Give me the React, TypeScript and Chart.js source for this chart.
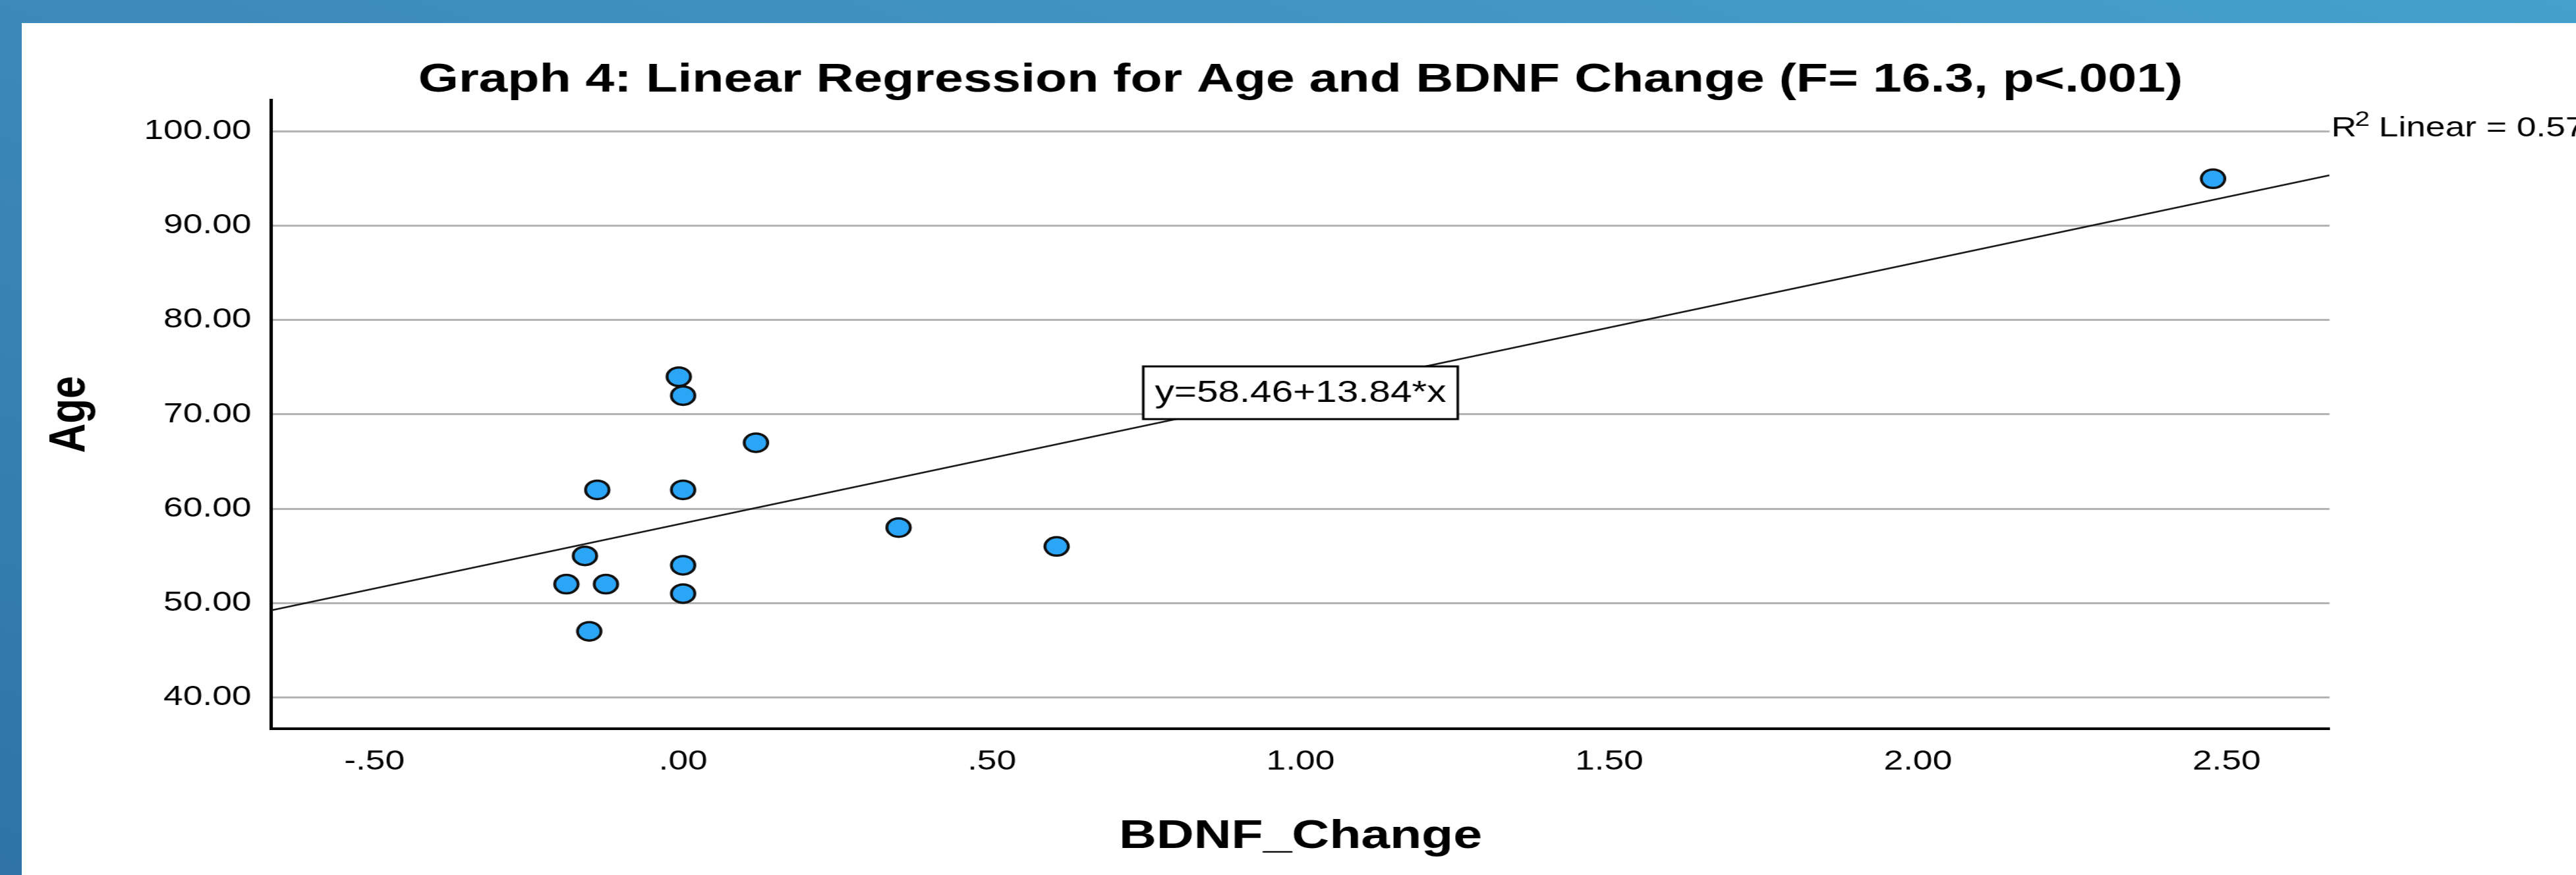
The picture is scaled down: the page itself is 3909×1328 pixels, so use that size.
import React, { useEffect, useRef } from "react";
import { Chart, registerables } from "chart.js";

Chart.register(...registerables);

// ---------- data ----------
const bdnfChange = [-0.007, 0.0, 0.118, -0.139, 0.0, 0.349, 0.605, -0.159, 0.0, -0.189, -0.125, 0.0, -0.152, 2.478];
const age = [74, 72, 67, 62, 62, 58, 56, 55, 54, 52, 52, 51, 47, 95];

const fitLineX = [-0.6667, 2.6667];
const fitLineY = [49.23, 95.37];

const xTicks = [-0.5, 0, 0.5, 1, 1.5, 2, 2.5];
const xTickLabels = ["-.50", ".00", ".50", "1.00", "1.50", "2.00", "2.50"];
const yTicks = [40, 50, 60, 70, 80, 90, 100];
const yTickLabels = ["40.00", "50.00", "60.00", "70.00", "80.00", "90.00", "100.00"];

const chartTitle = "Graph 4: Linear Regression for Age and BDNF Change (F= 16.3, p<.001)";
const xAxisTitle = "BDNF_Change";
const yAxisTitle = "Age";
const equationText = "y=58.46+13.84*x";
const equationAnchor = [1.0, 72.3];
const r2Parts = ["R", "2", " Linear = 0.576"];

// ---------- layout ----------
const WIN_W = 3909;
const WIN_H = 1328;
const BAR_L = 33;
const BAR_T = 35;
const PANEL_W = WIN_W - BAR_L;
const PANEL_H = WIN_H - BAR_T;
const STRETCH = 1.27;
const CANVAS_W = Math.round(PANEL_W / STRETCH);
const CANVAS_H = PANEL_H;

const AREA_LEFT = 298.4;
const AREA_RIGHT = 2757.5;
const AREA_TOP = 117;
const AREA_BOTTOM = 1071;

const FONT = "Arial, 'Liberation Sans', sans-serif";

const overlayPlugin = {
  id: "overlay",
  afterDatasetsDraw(chart: any) {
    const { ctx, scales } = chart;
    const px = scales.x.getPixelForValue(equationAnchor[0]);
    const py = scales.y.getPixelForValue(equationAnchor[1]);
    ctx.save();
    ctx.font = `46px ${FONT}`;
    const tw = ctx.measureText(equationText).width;
    const w = tw + 28;
    const h = 80;
    ctx.fillStyle = "#ffffff";
    ctx.fillRect(px - w / 2, py - h / 2, w, h);
    ctx.strokeStyle = "#000000";
    ctx.lineWidth = 3;
    ctx.strokeRect(px - w / 2, py - h / 2, w, h);
    ctx.fillStyle = "#000000";
    ctx.textAlign = "center";
    ctx.textBaseline = "middle";
    ctx.fillText(equationText, px, py + 1);
    ctx.restore();
  },
  afterDraw(chart: any) {
    const { ctx, chartArea } = chart;
    ctx.save();
    // title
    ctx.fillStyle = "#000000";
    ctx.font = `bold 62px ${FONT}`;
    ctx.textAlign = "center";
    ctx.textBaseline = "alphabetic";
    ctx.fillText(chartTitle, (chartArea.left + chartArea.right) / 2, 104);
    // R squared label
    ctx.textAlign = "left";
    let x = chartArea.right + 2;
    ctx.font = `42px ${FONT}`;
    ctx.fillText(r2Parts[0], x, 172);
    x += ctx.measureText(r2Parts[0]).width - 2;
    ctx.font = `32px ${FONT}`;
    ctx.fillText(r2Parts[1], x, 156);
    x += ctx.measureText(r2Parts[1]).width - 1;
    ctx.font = `42px ${FONT}`;
    ctx.fillText(r2Parts[2], x, 172);
    ctx.restore();
  },
};

export default function App() {
  const ref = useRef<HTMLCanvasElement>(null);

  useEffect(() => {
    if (!ref.current) return;
    const points = bdnfChange.map((v, i) => ({ x: v, y: age[i] }));
    const fit = fitLineX.map((v, i) => ({ x: v, y: fitLineY[i] }));
    const chart = new Chart(ref.current, {
      type: "scatter",
      data: {
        datasets: [
          {
            label: "Age",
            data: points,
            pointRadius: 14,
            pointHoverRadius: 14,
            pointBackgroundColor: "#2BA6F6",
            pointBorderColor: "#111111",
            pointBorderWidth: 3.5,
            showLine: false,
          },
          {
            label: "Fit",
            data: fit,
            showLine: true,
            borderColor: "#1a1a1a",
            borderWidth: 2.5,
            pointRadius: 0,
            pointHoverRadius: 0,
            fill: false,
          },
        ],
      },
      options: {
        responsive: false,
        animation: false,
        devicePixelRatio: 1,
        events: [],
        layout: {
          padding: { top: AREA_TOP, right: CANVAS_W - AREA_RIGHT, bottom: 0, left: 0 },
        },
        plugins: {
          legend: { display: false },
          tooltip: { enabled: false },
          title: { display: false },
        },
        scales: {
          x: {
            type: "linear",
            min: -2 / 3,
            max: 8 / 3,
            afterBuildTicks: (s: any) => {
              s.ticks = xTicks.map((v) => ({ value: v }));
            },
            afterFit: (s: any) => {
              s.height = CANVAS_H - AREA_BOTTOM;
            },
            ticks: {
              callback: (_v: any, i: number) => xTickLabels[i],
              color: "#000000",
              font: { family: FONT, size: 42 },
              padding: 25,
              maxRotation: 0,
              autoSkip: false,
            },
            grid: { display: false, drawTicks: false },
            border: { display: true, color: "#000000", width: 4 },
            title: {
              display: true,
              text: xAxisTitle,
              color: "#000000",
              font: { family: FONT, size: 62, weight: "bold" },
              padding: { top: 0, bottom: 21 },
            },
          },
          y: {
            type: "linear",
            min: 110 / 3,
            max: 310 / 3,
            afterBuildTicks: (s: any) => {
              s.ticks = yTicks.map((v) => ({ value: v }));
            },
            afterFit: (s: any) => {
              s.width = AREA_LEFT;
            },
            ticks: {
              callback: (_v: any, i: number) => yTickLabels[i],
              color: "#000000",
              font: { family: FONT, size: 42 },
              padding: 24,
              autoSkip: false,
            },
            grid: { color: "#B3B3B3", lineWidth: 3, drawTicks: false },
            border: { display: true, color: "#000000", width: 4 },
            title: {
              display: true,
              text: yAxisTitle,
              color: "#000000",
              font: { family: FONT, size: 62, weight: "bold" },
              padding: { top: 21, bottom: 0 },
            },
          },
        },
      },
      plugins: [overlayPlugin],
    } as any);
    return () => chart.destroy();
  }, []);

  return (
    <div
      style={{
        position: "fixed",
        left: 0,
        top: 0,
        width: WIN_W,
        height: WIN_H,
        overflow: "hidden",
        background: "linear-gradient(to top right, #2F73A7, #3B87B8 45%, #46A0CC)",
      }}
    >
      <div
        style={{
          position: "absolute",
          left: BAR_L,
          top: BAR_T,
          width: PANEL_W,
          height: PANEL_H,
          background: "#ffffff",
          overflow: "hidden",
        }}
      >
        <canvas
          ref={ref}
          width={CANVAS_W}
          height={CANVAS_H}
          style={{ display: "block", width: `${PANEL_W}px`, height: `${PANEL_H}px` }}
        />
      </div>
    </div>
  );
}
